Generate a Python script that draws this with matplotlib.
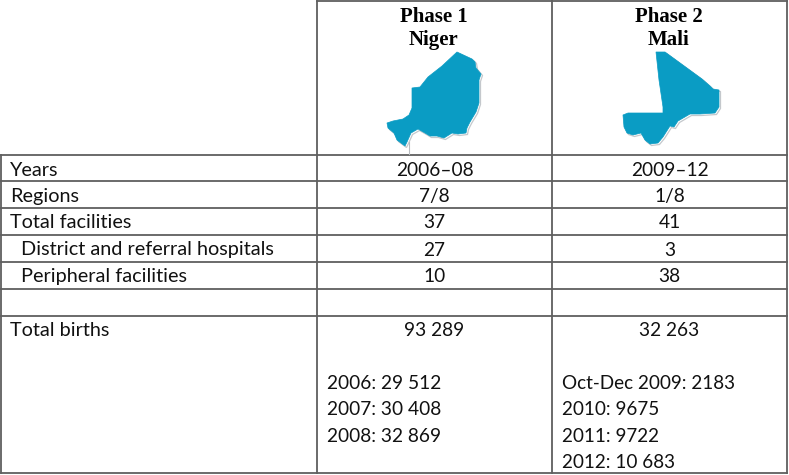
import matplotlib
matplotlib.use("Agg")
import matplotlib.pyplot as plt
from matplotlib.patches import Polygon

# table text
row_labels = ["Years", "Regions", "Total facilities", "  District and referral hospitals",
              "  Peripheral facilities", "", "Total births"]
niger_vals = ["2006–08", "7/8", "37", "27", "10", "", "93 289"]
mali_vals = ["2009–12", "1/8", "41", "3", "38", "", "32 263"]
niger_births = ["2006: 29 512", "2007: 30 408", "2008: 32 869"]
mali_births = ["Oct-Dec 2009: 2183", "2010: 9675", "2011: 9722", "2012: 10 683"]
headers = ["Phase 1\nNiger", "Phase 2\nMali"]

# grid lines and text baselines, in pixels
row_y = [154.5, 181, 208, 235, 262, 288.5, 315.5, 473]
col_x = [0.5, 317, 552, 787]
baselines = [175.5, 202, 228.5, 255.5, 282, 308, 336]

# map outlines, pixels
niger_shape = [(457, 52), (472, 59), (475, 62), (476, 68), (481, 74), (479, 80), (479, 103),
               (476, 112), (470, 122), (467, 128), (466, 133), (458, 134), (452, 133),
               (444, 138), (437, 136), (430, 136), (425, 133), (418, 129), (411, 133),
               (407, 142), (405, 146), (401, 143), (397, 140), (394, 133), (388, 128),
               (387, 123), (393, 121), (403, 119), (409, 115), (412, 108), (412, 88),
               (420, 87), (428, 77), (442, 66)]
mali_shape = [(656, 52), (665, 52), (702, 79), (710, 86), (713, 89), (719, 90), (719, 107),
              (715, 113), (700, 114), (690, 114), (678, 121), (674, 127), (670, 126),
              (663, 137), (658, 143), (650, 144), (645, 140), (641, 133), (633, 135),
              (627, 133), (624, 127), (623, 115), (628, 113), (638, 113), (663, 113),
              (663, 107), (659, 80)]
niger_stem = [(409, 142), (409, 154)]

BLUE = "#0a9cc4"
LINE = "#5f5f5f"
INK = "#111111"

fig = plt.figure(figsize=(7.89, 4.75), dpi=100)
ax = fig.add_axes([0, 0, 1, 1])
ax.set_xlim(0, 789)
ax.set_ylim(475, 0)
ax.axis("off")

# grid
ax.plot([col_x[1], col_x[3]], [1, 1], color=LINE, lw=1.3)
for y in row_y:
    ax.plot([col_x[0], col_x[3]], [y, y], color=LINE, lw=1.3)
ax.plot([col_x[0], col_x[0]], [row_y[0], row_y[-1]], color=LINE, lw=1.3)
for x in col_x[1:]:
    ax.plot([x, x], [1, row_y[-1]], color=LINE, lw=1.3)

# header + maps
centers = [(col_x[1] + col_x[2]) / 2, (col_x[2] + col_x[3]) / 2]
for cx, h in zip(centers, headers):
    ax.text(cx - 1, 28.5, h, ha="center", va="center", family="Liberation Serif",
            weight="bold", fontsize=15, linespacing=1.22, color="black")
for shape in (niger_shape, mali_shape):
    shadow = [(x + 1.5, y + 1.5) for x, y in shape]
    ax.add_patch(Polygon(shadow, closed=True, fc="white", ec="#c4c8cc", lw=0.9))
    ax.add_patch(Polygon(shape, closed=True, fc=BLUE, ec=BLUE, lw=0.5))
ax.plot([p[0] for p in niger_stem], [p[1] for p in niger_stem], color="#b8bcc0", lw=0.8)

FONT = "Lato"
SIZE_LABEL = 14.3
SIZE = 13.8

# rows
for i, lab in enumerate(row_labels):
    yb = baselines[i]
    ax.text(10 if not lab.startswith(" ") else 21, yb, lab.strip(), ha="left", va="baseline",
            family=FONT, fontsize=SIZE_LABEL, color=INK)
    ax.text(centers[0], yb, niger_vals[i], ha="center", va="baseline",
            family=FONT, fontsize=SIZE, color=INK)
    ax.text(centers[1], yb, mali_vals[i], ha="center", va="baseline",
            family=FONT, fontsize=SIZE, color=INK)

# births by year
for i, t in enumerate(niger_births):
    ax.text(327, 389 + i * 26.4, t, ha="left", va="baseline", family=FONT, fontsize=SIZE, color=INK)
for i, t in enumerate(mali_births):
    ax.text(562, 389 + i * 26.4, t, ha="left", va="baseline", family=FONT, fontsize=13.6, color=INK)

fig.savefig("out.png", dpi=100)
